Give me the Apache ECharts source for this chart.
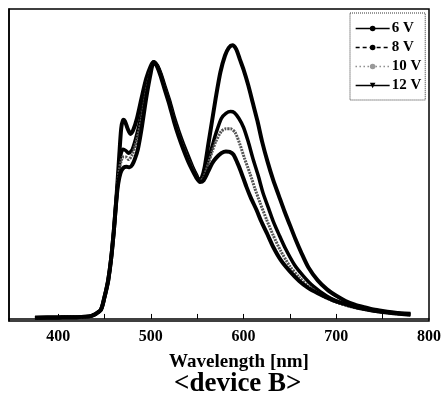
<!DOCTYPE html>
<html>
<head>
<meta charset="utf-8">
<script src="https://cdn.jsdelivr.net/npm/echarts@6/dist/echarts.min.js"></script>
<style>
  html, body { margin: 0; padding: 0; background: #fff; }
  #chart { width: 444px; height: 399px; }
</style>
</head>
<body>
<div id="chart"></div>
<script>
// wavelength (nm) and normalised EL intensity
const wl6V = [375, 400, 420, 430, 436, 440, 443, 446, 448, 450, 452, 454, 457, 460, 462, 464, 466, 468, 470, 472, 475, 478, 481, 485, 490, 495, 500, 503, 507, 511, 515, 520, 525, 530, 535, 540, 545, 549, 552, 555, 558, 562, 566, 570, 575, 580, 584, 588, 592, 596, 600, 605, 610, 615, 620, 626, 632, 638, 644, 650, 656, 662, 670, 680, 690, 700, 710, 720, 730, 740, 750, 760, 770, 780]
const int6V = [0.005, 0.006, 0.007, 0.009, 0.012, 0.018, 0.026, 0.035, 0.055, 0.085, 0.115, 0.15, 0.23, 0.34, 0.43, 0.53, 0.64, 0.74, 0.775, 0.77, 0.74, 0.72, 0.735, 0.78, 0.86, 0.935, 0.985, 1.0, 0.985, 0.95, 0.905, 0.85, 0.785, 0.73, 0.68, 0.635, 0.59, 0.56, 0.54, 0.55, 0.59, 0.68, 0.77, 0.86, 0.96, 1.025, 1.055, 1.065, 1.05, 1.01, 0.97, 0.91, 0.84, 0.77, 0.69, 0.61, 0.54, 0.48, 0.42, 0.365, 0.31, 0.26, 0.2, 0.15, 0.115, 0.09, 0.07, 0.056, 0.046, 0.037, 0.031, 0.026, 0.022, 0.02]

const wl8V = [375, 400, 420, 430, 436, 440, 443, 446, 448, 450, 452, 454, 457, 460, 462, 464, 466, 468, 470, 473, 476, 480, 485, 490, 495, 500, 503, 507, 511, 515, 520, 525, 530, 535, 540, 545, 549, 553, 557, 562, 566, 570, 576, 581, 586, 590, 595, 600, 605, 610, 616, 621, 627, 632, 638, 645, 655, 665, 675, 690, 700, 715, 730, 750, 765, 780]
const int8V = [0.005, 0.006, 0.007, 0.009, 0.012, 0.018, 0.026, 0.035, 0.055, 0.085, 0.115, 0.15, 0.23, 0.34, 0.43, 0.52, 0.6, 0.645, 0.66, 0.655, 0.645, 0.66, 0.72, 0.8, 0.895, 0.97, 1.0, 0.985, 0.948, 0.9, 0.843, 0.778, 0.722, 0.672, 0.627, 0.588, 0.558, 0.537, 0.555, 0.62, 0.67, 0.72, 0.78, 0.8, 0.807, 0.803, 0.78, 0.745, 0.69, 0.625, 0.555, 0.49, 0.43, 0.38, 0.33, 0.275, 0.21, 0.165, 0.128, 0.088, 0.07, 0.052, 0.04, 0.028, 0.022, 0.018]

const wl10V = [375, 400, 420, 430, 436, 440, 443, 446, 448, 450, 452, 454, 457, 460, 462, 464, 466, 468, 470, 473, 476, 480, 485, 490, 495, 500, 503, 507, 511, 515, 520, 525, 530, 535, 540, 545, 549, 553, 557, 562, 566, 570, 576, 581, 586, 591, 596, 601, 607, 612, 618, 625, 632, 640, 650, 660, 670, 685, 700, 715, 730, 750, 765, 780]
const int10V = [0.005, 0.006, 0.007, 0.009, 0.012, 0.018, 0.026, 0.035, 0.055, 0.085, 0.115, 0.15, 0.23, 0.34, 0.43, 0.515, 0.58, 0.615, 0.63, 0.63, 0.62, 0.64, 0.7, 0.78, 0.885, 0.968, 1.0, 0.982, 0.945, 0.897, 0.84, 0.775, 0.718, 0.668, 0.623, 0.584, 0.554, 0.535, 0.55, 0.605, 0.65, 0.69, 0.73, 0.74, 0.74, 0.725, 0.68, 0.625, 0.565, 0.51, 0.45, 0.385, 0.325, 0.265, 0.205, 0.162, 0.128, 0.09, 0.065, 0.048, 0.037, 0.026, 0.02, 0.016]

const wl12V = [375, 400, 420, 430, 436, 440, 443, 446, 448, 450, 452, 454, 457, 460, 462, 464, 466, 468, 471, 474, 477, 480, 483, 486, 490, 495, 500, 503, 507, 511, 515, 520, 525, 530, 535, 540, 545, 549, 553, 557, 562, 566, 570, 576, 581, 585, 589, 593, 597, 603, 608, 614, 619, 625, 632, 640, 650, 660, 670, 680, 690, 700, 712, 725, 740, 755, 768, 780]
const int12V = [0.005, 0.006, 0.007, 0.009, 0.012, 0.018, 0.026, 0.035, 0.055, 0.085, 0.115, 0.15, 0.23, 0.34, 0.43, 0.505, 0.55, 0.575, 0.59, 0.592, 0.59, 0.6, 0.625, 0.66, 0.74, 0.86, 0.96, 1.0, 0.98, 0.94, 0.892, 0.834, 0.768, 0.71, 0.66, 0.615, 0.577, 0.55, 0.533, 0.54, 0.575, 0.605, 0.625, 0.645, 0.652, 0.65, 0.64, 0.61, 0.575, 0.515, 0.47, 0.424, 0.38, 0.335, 0.28, 0.23, 0.185, 0.148, 0.12, 0.1, 0.083, 0.068, 0.055, 0.042, 0.032, 0.025, 0.02, 0.016]

const seriesNames = ['6 V', '8 V', '10 V', '12 V']
const tickValues = [400, 450, 500, 550, 600, 650, 700, 750]
const labelValues = [400, 500, 600, 700, 800]

const serif = '"Liberation Serif", "DejaVu Serif", serif'
const triDown = 'path://M0,0 L10,0 L5,9 Z'

function pairs(xs, ys) {
  return xs.map((x, i) => [x, ys[i]])
}

const chart = echarts.init(document.getElementById('chart'))

chart.setOption({
  animation: false,
  backgroundColor: '#fff',
  title: {
    text: '<device B>',
    left: 174,
    top: 371,
    padding: 0,
    textStyle: { fontFamily: serif, fontSize: 27, fontWeight: 'bold', color: '#000' }
  },
  grid: {
    left: 9,
    right: 13,
    top: 9,
    bottom: 78,
    show: true,
    borderColor: '#000',
    borderWidth: 1.5
  },
  legend: {
    orient: 'vertical',
    left: 350,
    top: 13,
    padding: [8, 4, 7, 5],
    itemGap: 4,
    itemWidth: 34,
    itemHeight: 7,
    borderColor: '#333',
    borderWidth: 1,
    borderType: 'dotted',
    textStyle: { fontFamily: serif, fontSize: 15, lineHeight: 15, fontWeight: 'bold', color: '#000', padding: [0, 0, 0, -3] },
    data: [
      { name: '6 V', itemStyle: { color: '#000' }, lineStyle: { type: 'solid', width: 1.3, color: '#000' } },
      { name: '8 V', itemStyle: { color: '#000' }, lineStyle: { type: [4, 3], width: 1.3, color: '#000' } },
      { name: '10 V', itemStyle: { color: '#999' }, lineStyle: { type: [1, 3], width: 1.3, color: '#555' } },
      { name: '12 V', itemStyle: { color: '#000' }, lineStyle: { type: 'solid', width: 1.3, color: '#000' } }
    ]
  },
  xAxis: {
    type: 'value',
    min: 347,
    max: 800,
    name: 'Wavelength [nm]',
    nameLocation: 'middle',
    nameGap: 32,
    nameTextStyle: { fontFamily: serif, fontSize: 19, fontWeight: 'bold', color: '#000', padding: [0, 0, 0, 40] },
    axisLine: { show: true, lineStyle: { color: '#000', width: 1.5 } },
    axisTick: { show: true, inside: true, length: 5, customValues: tickValues, lineStyle: { color: '#000' } },
    axisLabel: {
      customValues: labelValues,
      margin: 8,
      fontFamily: serif,
      fontSize: 16,
      fontWeight: 'bold',
      color: '#000'
    },
    splitLine: { show: false }
  },
  yAxis: {
    type: 'value',
    min: -0.008,
    max: 1.206,
    axisLine: { show: true, lineStyle: { color: '#000', width: 1.5 } },
    axisTick: { show: false },
    axisLabel: { show: false },
    splitLine: { show: false }
  },
  series: [
    {
      name: seriesNames[0], type: 'line', smooth: 0.25, showSymbol: false, symbol: 'circle',
      data: pairs(wl6V, int6V),
      itemStyle: { color: '#000' },
      lineStyle: { color: '#000', width: 4 }
    },
    {
      name: seriesNames[1], type: 'line', smooth: 0.25, showSymbol: false, symbol: 'circle',
      data: pairs(wl8V, int8V),
      itemStyle: { color: '#000' },
      lineStyle: { color: '#000', width: 3.5 }
    },
    {
      name: seriesNames[2], type: 'line', smooth: 0.25, showSymbol: false, symbol: 'circle',
      data: pairs(wl10V, int10V),
      itemStyle: { color: '#999' },
      lineStyle: { color: '#555', width: 3, type: [2, 1] }
    },
    {
      name: seriesNames[3], type: 'line', smooth: 0.25, showSymbol: false, symbol: triDown,
      data: pairs(wl12V, int12V),
      itemStyle: { color: '#000' },
      lineStyle: { color: '#000', width: 4 }
    }
  ]
})
</script>
</body>
</html>
